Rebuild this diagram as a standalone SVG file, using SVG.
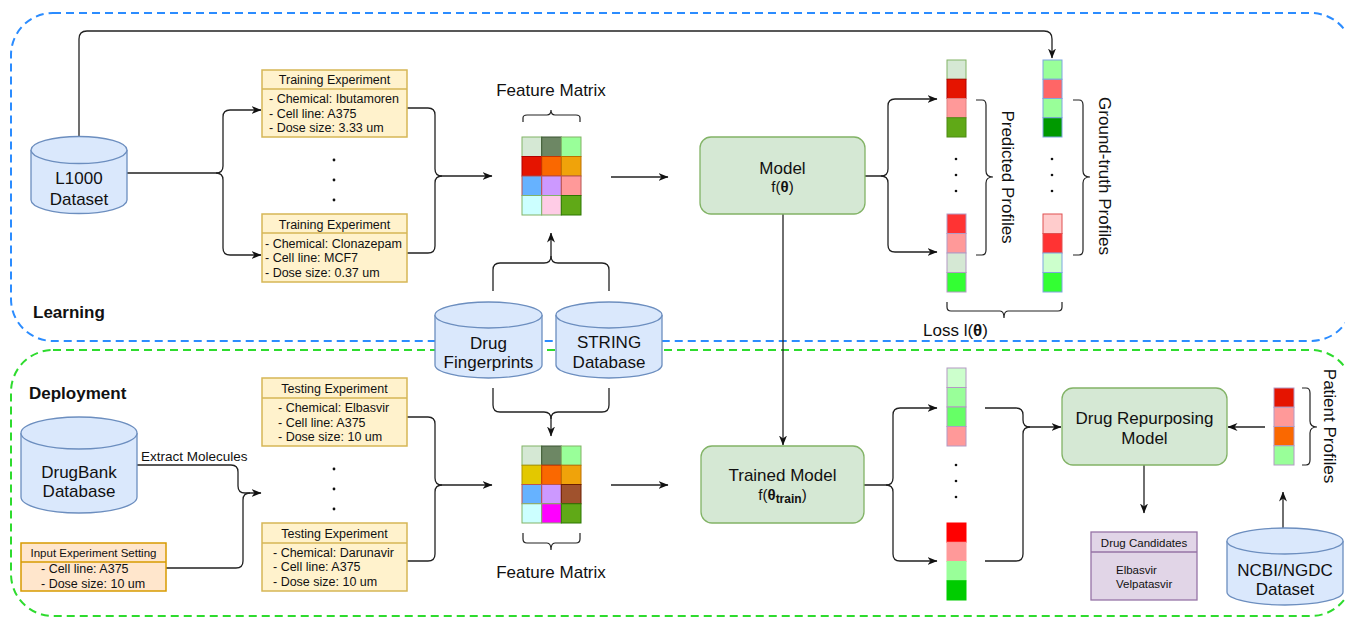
<svg xmlns="http://www.w3.org/2000/svg" width="1345" height="618" viewBox="0 0 1345 618">
<defs>
<marker id="ah" markerWidth="10" markerHeight="8" refX="9.5" refY="4" orient="auto" markerUnits="userSpaceOnUse"><path d="M0,0 L10,4 L0,8 L3,4 z" fill="#111"/></marker>
<style>
text{font-family:"Liberation Sans",Arial,sans-serif;fill:#111}
.t17{font-size:17px}
.t12{font-size:12.5px}
.t11{font-size:11.5px}
.c{text-anchor:middle}
.b{font-weight:bold}
.cyl{fill:#dae8fc;stroke:#6c8ebf;stroke-width:1.3}
.yel{fill:#fff2cc;stroke:#d6b656;stroke-width:1.5}
.org{fill:#ffe6cc;stroke:#d79b00;stroke-width:1.5}
.pur{fill:#e1d5e7;stroke:#9673a6;stroke-width:1.3}
.grn{fill:#d5e8d4;stroke:#82b366;stroke-width:1.3}
.ln{fill:none;stroke:#222;stroke-width:1.3}
.ar{fill:none;stroke:#222;stroke-width:1.3;marker-end:url(#ah)}
.br{fill:none;stroke:#222;stroke-width:1.2}
.cell{stroke-width:1}
</style>
</defs>

<g id="containers">
<rect x="11" y="13" width="1342" height="328" rx="42" fill="none" stroke="#2b8cff" stroke-width="2" stroke-dasharray="8,5"/>
<rect x="11" y="350" width="1342" height="266" rx="42" fill="none" stroke="#2edb2e" stroke-width="2" stroke-dasharray="8,5"/>
<text x="33" y="318" class="t17 b">Learning</text>
<text x="29" y="399" class="t17 b">Deployment</text>
</g>

<g id="connectors">
<path class="ar" d="M79,137 V39 Q79,31 87,31 H1044 Q1052,31 1052,39 V58"/>
<path class="ar" d="M127,173 H216 Q223,173 223,166 V117 Q223,110 230,110 H261"/>
<path class="ar" d="M216,173 Q223,173 223,180 V248 Q223,255 230,255 H261"/>
<path class="ar" d="M407,108 H428 Q435,108 435,115 V169 Q435,176 442,176 H492"/>
<path class="ln" d="M407,253 H428 Q435,253 435,246 V183 Q435,176 442,176"/>
<path class="ar" d="M611,177 H668"/>
<path class="ar" d="M783,214 V445"/>
<path class="ar" d="M865,176 H881 Q888,176 888,169 V106 Q888,99 895,99 H937"/>
<path class="ar" d="M881,176 Q888,176 888,183 V245 Q888,252 895,252 H937"/>
<path class="ar" d="M493,291 V270 Q493,263 500,263 H544 Q551,263 551,256 V233"/>
<path class="ln" d="M609,291 V270 Q609,263 602,263 H558 Q551,263 551,256"/>
<path class="ar" d="M493,388 V405 Q493,412 500,412 H544 Q551,412 551,419 V436"/>
<path class="ln" d="M609,388 V405 Q609,412 602,412 H558 Q551,412 551,419"/>
<path class="ar" d="M137,465 H231 Q238,465 238,472 V486 Q238,493 245,493 H261"/>
<path class="ln" d="M166,568 H236 Q243,568 243,561 V500 Q243,493 250,493"/>
<path class="ar" d="M407,417 H428 Q435,417 435,424 V478 Q435,485 442,485 H492"/>
<path class="ln" d="M407,561 H428 Q435,561 435,554 V492 Q435,485 442,485"/>
<path class="ar" d="M611,485 H668"/>
<path class="ar" d="M864,485 H886 Q893,485 893,478 V415 Q893,408 900,408 H937"/>
<path class="ar" d="M886,485 Q893,485 893,492 V554 Q893,561 900,561 H937"/>
<path class="ar" d="M985,408 H1016 Q1023,408 1023,415 V420 Q1023,427 1030,427 H1061"/>
<path class="ln" d="M985,561 H1016 Q1023,561 1023,554 V434 Q1023,427 1030,427"/>
<path class="ar" d="M1265,427 H1228"/>
<path class="ar" d="M1144,465 V513"/>
<path class="ar" d="M1283,528 V492"/>
</g>

<g id="braces">
<path class="br" d="M523,122 V118 Q523,115 527,115 H547 Q551,115 551,110 Q551,115 555,115 H576 Q580,115 580,118 V122"/>
<path class="br" d="M523,533 V539 Q523,543 527,543 H547 Q551,543 551,550 Q551,543 555,543 H576 Q580,543 580,539 V533"/>
<path class="br" d="M976,100 H982 Q986,100 986,105 V171 Q986,177 993,177 Q986,177 986,183 V250 Q986,255 982,255 H976"/>
<path class="br" d="M1073,100 H1079 Q1083,100 1083,105 V171 Q1083,177 1090,177 Q1083,177 1083,183 V250 Q1083,255 1079,255 H1073"/>
<path class="br" d="M947,302 V307 Q947,311 951,311 H1000 Q1004,311 1004,318 Q1004,311 1008,311 H1058 Q1062,311 1062,307 V302"/>
<path class="br" d="M1302,388 H1306 Q1310,388 1310,393 V421 Q1310,427 1317,427 Q1310,427 1310,433 V460 Q1310,465 1306,465 H1302"/>
</g>

<g id="l1000">
<path class="cyl" d="M31,150 A48,13.5 0 0 1 127,150 V200 A48,13.5 0 0 1 31,200 Z"/>
<path class="cyl" fill="none" d="M31,150 A48,13.5 0 0 0 127,150"/>
<text x="79" y="184" class="t17 c">L1000</text>
<text x="79" y="205" class="t17 c">Dataset</text>
</g>

<g id="train1">
<rect class="yel" x="262" y="70" width="145" height="67"/>
<line x1="262" y1="89" x2="407" y2="89" stroke="#d6b656" stroke-width="1.5"/>
<text x="334.5" y="84" class="t12 c">Training Experiment</text>
<text x="269" y="103" class="t12">- Chemical: Ibutamoren</text>
<text x="269" y="117.5" class="t12">- Cell line: A375</text>
<text x="269" y="132" class="t12">- Dose size: 3.33 um</text>
</g>
<g id="train-dots"><circle cx="334" cy="160" r="1.4" fill="#111"/><circle cx="334" cy="180" r="1.4" fill="#111"/><circle cx="334" cy="200" r="1.4" fill="#111"/></g>
<g id="train2">
<rect class="yel" x="262" y="214" width="145" height="68"/>
<line x1="262" y1="233" x2="407" y2="233" stroke="#d6b656" stroke-width="1.5"/>
<text x="334.5" y="228.5" class="t12 c">Training Experiment</text>
<text x="265" y="248" class="t12">- Chemical: Clonazepam</text>
<text x="265" y="262" class="t12">- Cell line: MCF7</text>
<text x="265" y="276.5" class="t12">- Dose size: 0.37 um</text>
</g>

<g id="matrix1">
<text x="551" y="96" class="t17 c">Feature Matrix</text>
<rect class="cell" x="522" y="137" width="19.7" height="19.5" fill="#d5e8d4" stroke="#82b366"/>
<rect class="cell" x="541.7" y="137" width="19.7" height="19.5" fill="#6d8764" stroke="#3a5431"/>
<rect class="cell" x="561.3" y="137" width="19.7" height="19.5" fill="#99ff99" stroke="#82b366"/>
<rect class="cell" x="522" y="156.5" width="19.7" height="19.5" fill="#e51400" stroke="#b20000"/>
<rect class="cell" x="541.7" y="156.5" width="19.7" height="19.5" fill="#fa6800" stroke="#c73500"/>
<rect class="cell" x="561.3" y="156.5" width="19.7" height="19.5" fill="#f0a30a" stroke="#bd7000"/>
<rect class="cell" x="522" y="176" width="19.7" height="19.5" fill="#66b2ff" stroke="#b85450"/>
<rect class="cell" x="541.7" y="176" width="19.7" height="19.5" fill="#cc99ff" stroke="#b85450"/>
<rect class="cell" x="561.3" y="176" width="19.7" height="19.5" fill="#ff9999" stroke="#b85450"/>
<rect class="cell" x="522" y="195.5" width="19.7" height="19.5" fill="#ccffff" stroke="#82b366"/>
<rect class="cell" x="541.7" y="195.5" width="19.7" height="19.5" fill="#ffcce6" stroke="#82b366"/>
<rect class="cell" x="561.3" y="195.5" width="19.7" height="19.5" fill="#60a917" stroke="#2d7600"/>
</g>

<g id="model">
<rect class="grn" x="700" y="137" width="165" height="77" rx="11"/>
<text x="782.5" y="174" class="t17 c">Model</text>
<text x="782.5" y="192" class="c" style="font-size:15px">f(<tspan class="b">θ</tspan>)</text>
</g>

<g id="predicted">
<rect class="cell" x="947" y="60" width="19" height="19.25" fill="#d5e8d4" stroke="#82b366"/>
<rect class="cell" x="947" y="79.25" width="19" height="19.25" fill="#e51400" stroke="#b20000"/>
<rect class="cell" x="947" y="98.5" width="19" height="19.25" fill="#ff9999" stroke="#e08080"/>
<rect class="cell" x="947" y="117.75" width="19" height="19.25" fill="#60a917" stroke="#4d8a12"/>
<circle cx="956" cy="159" r="1.3" fill="#111"/><circle cx="956" cy="175" r="1.3" fill="#111"/><circle cx="956" cy="191" r="1.3" fill="#111"/>
<rect class="cell" x="947" y="214" width="19" height="19.5" fill="#ff3333" stroke="#b39ac4"/>
<rect class="cell" x="947" y="233.5" width="19" height="19.5" fill="#ff9999" stroke="#b39ac4"/>
<rect class="cell" x="947" y="253" width="19" height="19.5" fill="#d5e8d4" stroke="#b39ac4"/>
<rect class="cell" x="947" y="272.5" width="19" height="19.5" fill="#33ff33" stroke="#b39ac4"/>
<text transform="translate(1008,177) rotate(90)" y="6" class="t17 c">Predicted Profiles</text>
</g>

<g id="groundtruth">
<rect class="cell" x="1043" y="60" width="19" height="19.25" fill="#99ff99" stroke="#7ea6e0"/>
<rect class="cell" x="1043" y="79.25" width="19" height="19.25" fill="#ff6666" stroke="#7ea6e0"/>
<rect class="cell" x="1043" y="98.5" width="19" height="19.25" fill="#99ff99" stroke="#7ea6e0"/>
<rect class="cell" x="1043" y="117.75" width="19" height="19.25" fill="#009900" stroke="#7ea6e0"/>
<circle cx="1052" cy="159" r="1.3" fill="#111"/><circle cx="1052" cy="175" r="1.3" fill="#111"/><circle cx="1052" cy="191" r="1.3" fill="#111"/>
<rect class="cell" x="1043" y="214" width="19" height="19.5" fill="#ffcccc" stroke="#e05050"/>
<rect class="cell" x="1043" y="233.5" width="19" height="19.5" fill="#ff3333" stroke="#e05050"/>
<rect class="cell" x="1043" y="253" width="19" height="19.5" fill="#ccffcc" stroke="#7ea6e0"/>
<rect class="cell" x="1043" y="272.5" width="19" height="19.5" fill="#33ff33" stroke="#7ea6e0"/>
<text transform="translate(1105,176) rotate(90)" y="6" class="t17 c">Ground-truth Profiles</text>
</g>

<g id="loss">
<text x="923" y="336" class="t17">Loss l(<tspan class="b">θ</tspan>)</text>
</g>

<g id="fingerprints">
<path class="cyl" d="M435,315 A53.5,13 0 0 1 542,315 V365 A53.5,13 0 0 1 435,365 Z"/>
<path class="cyl" fill="none" d="M435,315 A53.5,13 0 0 0 542,315"/>
<text x="488.5" y="349" class="t17 c">Drug</text>
<text x="488.5" y="368" class="t17 c">Fingerprints</text>
</g>
<g id="string">
<path class="cyl" d="M556,315 A53,13 0 0 1 662,315 V365 A53,13 0 0 1 556,365 Z"/>
<path class="cyl" fill="none" d="M556,315 A53,13 0 0 0 662,315"/>
<text x="609" y="348" class="t17 c">STRING</text>
<text x="609" y="368" class="t17 c">Database</text>
</g>

<g id="drugbank">
<path class="cyl" d="M21,433 A58,16 0 0 1 137,433 V497 A58,16 0 0 1 21,497 Z"/>
<path class="cyl" fill="none" d="M21,433 A58,16 0 0 0 137,433"/>
<text x="79" y="478" class="t17 c">DrugBank</text>
<text x="79" y="497" class="t17 c">Database</text>
</g>
<g id="extract-label"><text x="141" y="461" style="font-size:13.5px">Extract Molecules</text></g>

<g id="input">
<rect class="org" x="21" y="543" width="145" height="48"/>
<line x1="21" y1="562" x2="166" y2="562" stroke="#d79b00" stroke-width="1.5"/>
<text x="93.5" y="556.5" class="t11 c">Input Experiment Setting</text>
<text x="41" y="573" class="t12">- Cell line: A375</text>
<text x="41" y="588" class="t12">- Dose size: 10 um</text>
</g>

<g id="test1">
<rect class="yel" x="262" y="378" width="145" height="68"/>
<line x1="262" y1="398" x2="407" y2="398" stroke="#d6b656" stroke-width="1.5"/>
<text x="334.5" y="392.5" class="t12 c">Testing Experiment</text>
<text x="278" y="412" class="t12">- Chemical: Elbasvir</text>
<text x="278" y="426.5" class="t12">- Cell line: A375</text>
<text x="278" y="441" class="t12">- Dose size: 10 um</text>
</g>
<g id="test-dots"><circle cx="334" cy="469" r="1.4" fill="#111"/><circle cx="334" cy="489" r="1.4" fill="#111"/><circle cx="334" cy="509" r="1.4" fill="#111"/></g>
<g id="test2">
<rect class="yel" x="262" y="523" width="145" height="68"/>
<line x1="262" y1="543" x2="407" y2="543" stroke="#d6b656" stroke-width="1.5"/>
<text x="334.5" y="537.5" class="t12 c">Testing Experiment</text>
<text x="273" y="556.5" class="t12">- Chemical: Darunavir</text>
<text x="273" y="571" class="t12">- Cell line: A375</text>
<text x="273" y="585.5" class="t12">- Dose size: 10 um</text>
</g>

<g id="matrix2">
<rect class="cell" x="522" y="446" width="19.7" height="19.25" fill="#d5e8d4" stroke="#82b366"/>
<rect class="cell" x="541.7" y="446" width="19.7" height="19.25" fill="#6d8764" stroke="#3a5431"/>
<rect class="cell" x="561.3" y="446" width="19.7" height="19.25" fill="#99ff99" stroke="#82b366"/>
<rect class="cell" x="522" y="465.25" width="19.7" height="19.25" fill="#e3c800" stroke="#b09500"/>
<rect class="cell" x="541.7" y="465.25" width="19.7" height="19.25" fill="#fa6800" stroke="#c73500"/>
<rect class="cell" x="561.3" y="465.25" width="19.7" height="19.25" fill="#f0a30a" stroke="#bd7000"/>
<rect class="cell" x="522" y="484.5" width="19.7" height="19.25" fill="#66b2ff" stroke="#b85450"/>
<rect class="cell" x="541.7" y="484.5" width="19.7" height="19.25" fill="#cc99ff" stroke="#b85450"/>
<rect class="cell" x="561.3" y="484.5" width="19.7" height="19.25" fill="#a0522d" stroke="#6d1f00"/>
<rect class="cell" x="522" y="503.75" width="19.7" height="19.25" fill="#ccffff" stroke="#82b366"/>
<rect class="cell" x="541.7" y="503.75" width="19.7" height="19.25" fill="#ff00ff" stroke="#82b366"/>
<rect class="cell" x="561.3" y="503.75" width="19.7" height="19.25" fill="#60a917" stroke="#2d7600"/>
<text x="551" y="578" class="t17 c">Feature Matrix</text>
</g>

<g id="trained">
<rect class="grn" x="701" y="446" width="163" height="77" rx="11"/>
<text x="782.5" y="481" class="t17 c">Trained Model</text>
<text x="782.5" y="500" class="c" style="font-size:15px">f(<tspan class="b">θ</tspan><tspan class="b" style="font-size:12px" dy="3">train</tspan><tspan dy="-3">)</tspan></text>
</g>

<g id="deploy-profiles">
<rect class="cell" x="947" y="368" width="19" height="19.5" fill="#ccffcc" stroke="#b39ac4"/>
<rect class="cell" x="947" y="387.5" width="19" height="19.5" fill="#99ff99" stroke="#b39ac4"/>
<rect class="cell" x="947" y="407" width="19" height="19.5" fill="#66ff66" stroke="#b39ac4"/>
<rect class="cell" x="947" y="426.5" width="19" height="19.5" fill="#ff9999" stroke="#b39ac4"/>
<circle cx="956" cy="465" r="1.3" fill="#111"/><circle cx="956" cy="481" r="1.3" fill="#111"/><circle cx="956" cy="497" r="1.3" fill="#111"/>
<rect class="cell" x="947" y="523" width="19" height="19.25" fill="#ff0000" stroke="#ff0000"/>
<rect class="cell" x="947" y="542.25" width="19" height="19.25" fill="#ff9999" stroke="#ff9999"/>
<rect class="cell" x="947" y="561.5" width="19" height="19.25" fill="#99ff99" stroke="#99ff99"/>
<rect class="cell" x="947" y="580.75" width="19" height="19.25" fill="#00cc00" stroke="#00cc00"/>
</g>

<g id="repurposing">
<rect class="grn" x="1062" y="388" width="165" height="77" rx="11"/>
<text x="1144.5" y="424" class="t17 c">Drug Repurposing</text>
<text x="1144.5" y="444" class="t17 c">Model</text>
</g>

<g id="patient">
<rect class="cell" x="1274" y="388" width="20" height="19.25" fill="#e51400" stroke="#b39ac4"/>
<rect class="cell" x="1274" y="407.25" width="20" height="19.25" fill="#ff9999" stroke="#b39ac4"/>
<rect class="cell" x="1274" y="426.5" width="20" height="19.25" fill="#fa6800" stroke="#b39ac4"/>
<rect class="cell" x="1274" y="445.75" width="20" height="19.25" fill="#99ff99" stroke="#b39ac4"/>
<text transform="translate(1330,426) rotate(90)" y="6" class="t17 c">Patient Profiles</text>
</g>

<g id="candidates">
<rect class="pur" x="1091" y="532" width="106" height="68"/>
<line x1="1091" y1="552" x2="1197" y2="552" stroke="#9673a6" stroke-width="1.3"/>
<text x="1144" y="546.5" class="t11 c">Drug Candidates</text>
<text x="1116" y="574" class="t11">Elbasvir</text>
<text x="1116" y="588" class="t11">Velpatasvir</text>
</g>

<g id="ncbi">
<path class="cyl" d="M1227,541 A58,13 0 0 1 1343,541 V592 A58,13 0 0 1 1227,592 Z"/>
<path class="cyl" fill="none" d="M1227,541 A58,13 0 0 0 1343,541"/>
<text x="1285" y="576" class="t17 c">NCBI/NGDC</text>
<text x="1285" y="595" class="t17 c">Dataset</text>
</g>
</svg>
